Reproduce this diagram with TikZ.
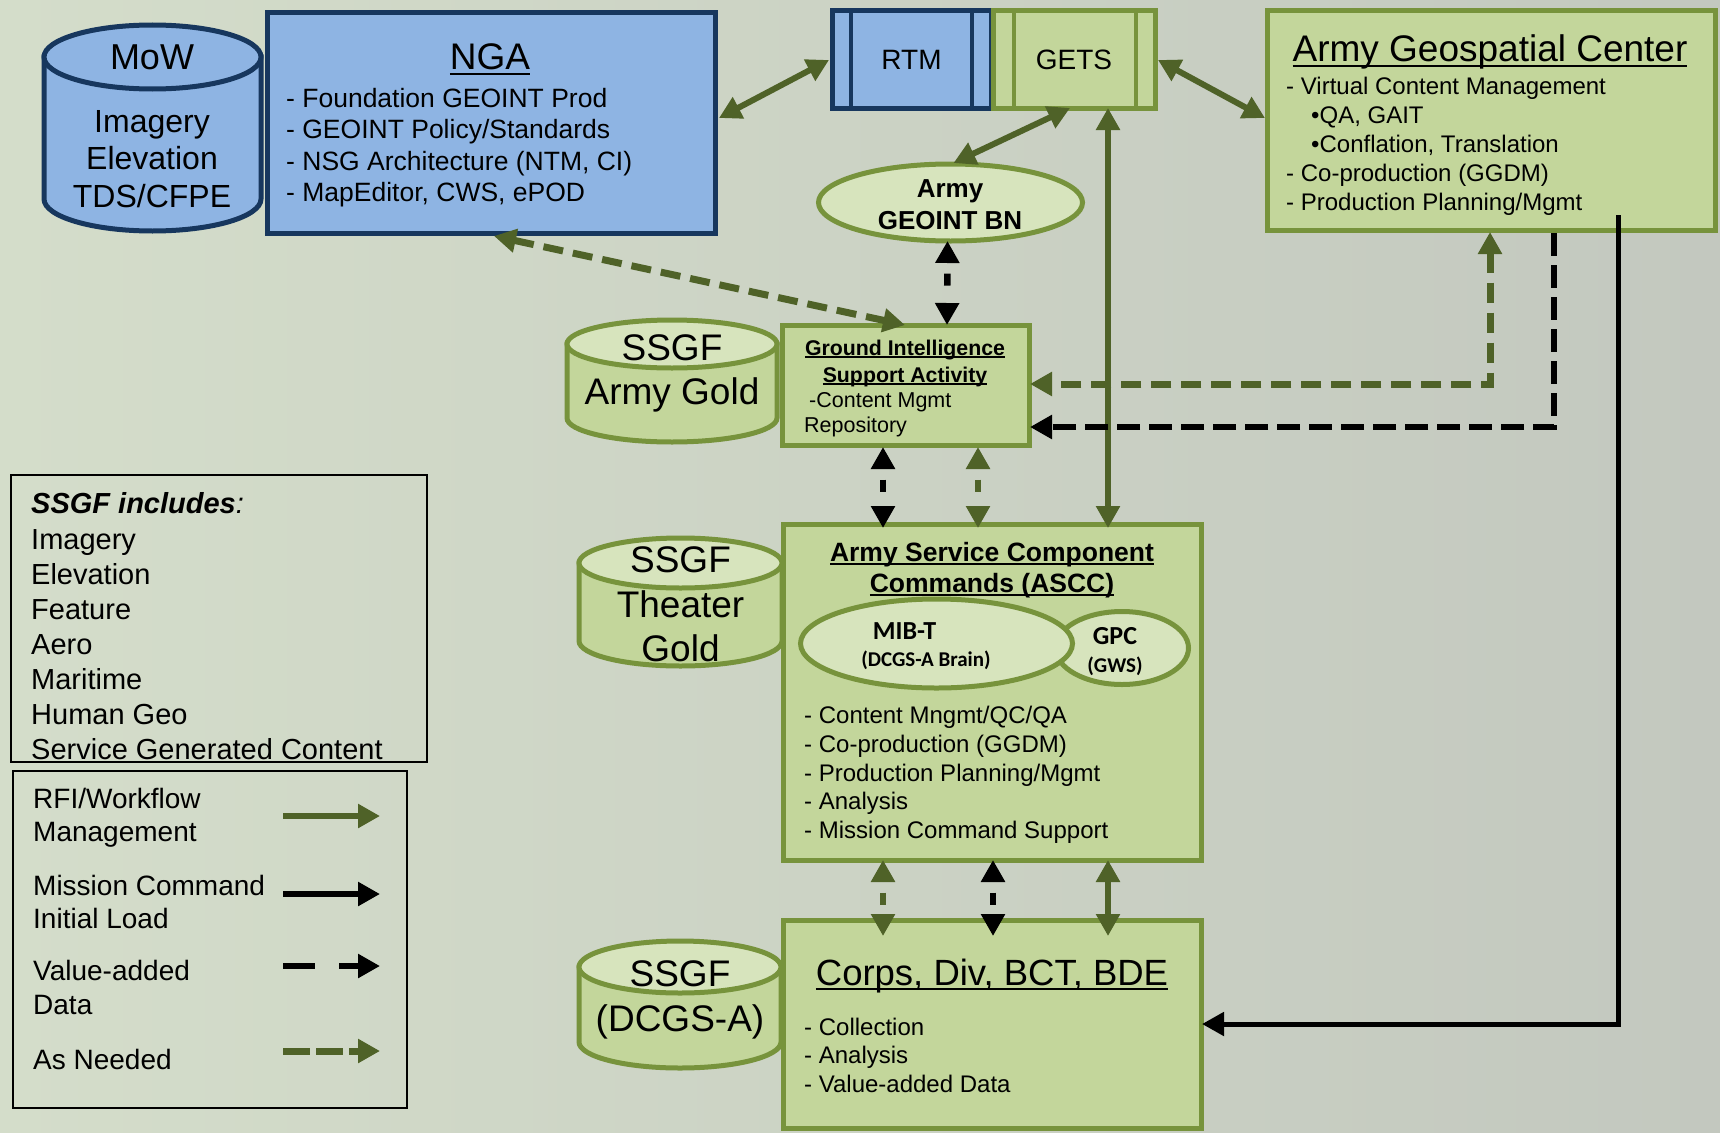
\documentclass[tikz,border=0pt]{standalone}
\usepackage{fontspec}
\setmainfont{Liberation Sans}
\newfontfamily\calfont{Carlito}
\usetikzlibrary{arrows.meta,calc,shapes.geometric}
\definecolor{bgL}{HTML}{D4DDCA}
\definecolor{bgR}{HTML}{C3C8BF}
\definecolor{bluefill}{HTML}{8EB4E3}
\definecolor{blueline}{HTML}{17375E}
\definecolor{grnfill}{HTML}{C3D69B}
\definecolor{grnlight}{HTML}{D7E4BD}
\definecolor{grnline}{HTML}{77933C}
\definecolor{arrgrn}{HTML}{4F6228}
\newsavebox\ulbox
\newcommand\ulx[1]{\sbox\ulbox{#1}\rlap{\rule[-0.14em]{\wd\ulbox}{0.07em}}\usebox\ulbox}
\newcommand\drawcyl[8]{%
  \pgfmathsetmacro\cylcx{(#1+#2)/2}%
  \pgfmathsetmacro\cylrx{(#2-#1)/2}%
  \filldraw[fill=#6,draw=#8,line width=5pt] (#1,#3+#5) -- (#1,#4-#5)
     arc[start angle=180,end angle=360,x radius=\cylrx pt,y radius=#5pt] -- (#2,#3+#5) -- cycle;
  \filldraw[fill=#7,draw=#8,line width=5pt] (\cylcx,#3+#5) ellipse[x radius=\cylrx pt,y radius=#5pt];
}
\begin{document}
\begin{tikzpicture}[x=1pt,y=-1pt,>={Triangle[length=22pt,width=23pt]},
  box/.style={draw,line width=5pt,inner sep=0pt,outer sep=0pt,anchor=north west},
  bluebox/.style={box,fill=bluefill,draw=blueline},
  grnbox/.style={box,fill=grnfill,draw=grnline},
  oval/.style={ellipse,draw=grnline,fill=grnlight,line width=5pt,inner sep=0pt,outer sep=0pt},
  legbox/.style={draw=black,line width=1.8pt,inner sep=0pt,outer sep=0pt,anchor=north west},
  lt/.style={inner sep=0pt,anchor=base west},
  ct/.style={inner sep=0pt,anchor=base},
  garrow/.style={draw=arrgrn,line width=6pt},
  barrow/.style={draw=black,line width=6pt},
  gdash/.style={line width=7pt,dash pattern=on 20pt off 10pt},
  bdash/.style={line width=6.5pt,dash pattern=on 23pt off 9pt},
  sdash/.style={line width=6.5pt,dash pattern=on 0pt off 12pt on 12pt off 40pt},
  fbig/.style={font=\fontsize{37}{44}\selectfont},
  fmow/.style={font=\fontsize{32}{38}\selectfont},
  fnga/.style={font=\fontsize{26.5}{32}\selectfont},
  fitem/.style={font=\fontsize{24}{29}\selectfont},
  fleg/.style={font=\fontsize{29}{35}\selectfont},
  fleg2/.style={font=\fontsize{28}{34}\selectfont},
  fgisa/.style={font=\fontsize{21.5}{26}\selectfont},
  fgisab/.style={font=\fontsize{21.3}{26}\selectfont\bfseries},
  fasccb/.style={font=\fontsize{26.5}{31}\selectfont\bfseries},
  fbn/.style={font=\fontsize{26}{31}\selectfont\bfseries},
  fcalA/.style={font=\calfont\fontsize{26}{30}\selectfont\bfseries},
  fcalB/.style={font=\calfont\fontsize{21}{25}\selectfont\bfseries}]

% background
\fill[left color=bgL,right color=bgR] (0,0) rectangle (1720,1132);
\useasboundingbox (0,0) rectangle (1720,1132);

% MoW
\drawcyl{44}{261}{25}{231}{32}{bluefill}{bluefill}{blueline}
\node[ct,font=\fontsize{36}{40}\selectfont] (mowt) at (152,70) {MoW};
\node[ct,fmow] (mow1) at (152,132) {Imagery};
\node[ct,fmow] (mow2) at (152,169.5) {Elevation};
\node[ct,fmow] (mow3) at (152,207) {TDS/CFPE};

% NGA
\node[bluebox,minimum width=448pt,minimum height=220pt] (nga) at (267,13) {};
\node[ct,fbig] (ngat) at (490,70) {\ulx{NGA}};
\node[lt,fnga] (nga1) at (286,107) {- Foundation GEOINT Prod};
\node[lt,fnga] (nga2) at (286,138.5) {- GEOINT Policy/Standards};
\node[lt,fnga] (nga3) at (286,170) {- NSG Architecture (NTM, CI)};
\node[lt,fnga] (nga4) at (286,201.5) {- MapEditor, CWS, ePOD};

% RTM / GETS
\node[bluebox,minimum width=159pt,minimum height=97pt] (rtm) at (832,11) {};
\draw[blueline,line width=4pt] ([xshift=19pt]rtm.north west) -- ([xshift=19pt]rtm.south west);
\draw[blueline,line width=4pt] ([xshift=-19pt]rtm.north east) -- ([xshift=-19pt]rtm.south east);
\node[grnbox,minimum width=162pt,minimum height=97pt] (gets) at (993,11) {};
\draw[grnline,line width=4pt] ([xshift=21pt]gets.north west) -- ([xshift=21pt]gets.south west);
\draw[grnline,line width=4pt] ([xshift=-19pt]gets.north east) -- ([xshift=-19pt]gets.south east);
\node[ct,font=\fontsize{28}{34}\selectfont] (rtmt) at (911.5,69.5) {RTM};
\node[ct,font=\fontsize{28}{34}\selectfont] (getst) at (1074,69.5) {GETS};

% Army Geospatial Center
\node[grnbox,minimum width=448pt,minimum height=219pt] (agc) at (1267,11) {};
\node[ct,fbig] (agct) at (1490,62) {\ulx{Army Geospatial Center}};
\node[lt,fitem] (agc1) at (1286,94) {- Virtual Content Management};
\node[lt,fitem] (agc2) at (1311,123) {•QA, GAIT};
\node[lt,fitem] (agc3) at (1311,152) {•Conflation, Translation};
\node[lt,fitem] (agc4) at (1286,181) {- Co-production (GGDM)};
\node[lt,fitem] (agc5) at (1286,210) {- Production Planning/Mgmt};

% Army GEOINT BN
\node[oval,minimum width=264pt,minimum height=77pt] (bn) at (950.5,202.5) {};
\node[ct,fbn] (bn1) at (950,197) {Army};
\node[ct,fbn] (bn2) at (950,229) {GEOINT BN};

% SSGF Army Gold
\drawcyl{567}{777}{320}{442}{24}{grnfill}{grnlight}{grnline}
\node[ct,fbig] (ag1) at (672,360) {SSGF};
\node[ct,fbig] (ag2) at (672,404) {Army Gold};

% GISA
\node[grnbox,minimum width=247pt,minimum height=120pt] (gisa) at (782,325) {};
\node[ct,fgisab] (gisa1) at (905,355) {\ulx{Ground Intelligence}};
\node[ct,fgisab] (gisa2) at (905,382) {\ulx{Support Activity}};
\node[lt,fgisa] (gisa3) at (809,407) {-Content Mgmt};
\node[lt,fgisa] (gisa4) at (804,432) {Repository};

% Legend 1
\node[legbox,minimum width=416pt,minimum height=287pt] (leg1) at (11,475) {};
\node[lt,fleg] (s0) at (31,513) {\textbf{\textit{SSGF includes}}\textit{:}};
\node[lt,fleg] (s1) at (31,549) {Imagery};
\node[lt,fleg] (s2) at (31,584) {Elevation};
\node[lt,fleg] (s3) at (31,619) {Feature};
\node[lt,fleg] (s4) at (31,654) {Aero};
\node[lt,fleg] (s5) at (31,689) {Maritime};
\node[lt,fleg] (s6) at (31,724) {Human Geo};
\node[lt,fleg] (s7) at (31,759) {Service Generated Content};

% Legend 2
\node[legbox,line width=2pt,minimum width=394pt,minimum height=337pt] (leg2) at (13,771) {};
\node[lt,fleg2] (k1) at (33,808) {RFI/Workflow};
\node[lt,fleg2] (k2) at (33,841) {Management};
\node[lt,fleg2] (k3) at (33,895) {Mission Command};
\node[lt,fleg2] (k4) at (33,928.5) {Initial Load};
\node[lt,fleg2] (k5) at (33,980) {Value-added};
\node[lt,fleg2] (k6) at (33,1014) {Data};
\node[lt,fleg2] (k7) at (33,1069) {As Needed};
\coordinate (la1) at (283,816); \coordinate (lb1) at (380,816);
\coordinate (la2) at (283,894); \coordinate (lb2) at (380,894);
\coordinate (la3) at (283,966); \coordinate (lb3) at (380,966);
\coordinate (la4) at (283,1051); \coordinate (lb4) at (380,1051);
\draw[garrow,->] (la1) -- (lb1);
\draw[barrow,->] (la2) -- (lb2);
\draw[barrow,line width=6.5pt,dash pattern=on 32pt off 24pt on 40pt,->] (la3) -- (lb3);
\draw[garrow,line width=7pt,dash pattern=on 27pt off 6pt,->] (la4) -- (lb4);

% SSGF Theater Gold
\drawcyl{579}{782}{538}{666}{25}{grnfill}{grnlight}{grnline}
\node[ct,fbig] (tg1) at (680.5,572) {SSGF};
\node[ct,fbig] (tg2) at (680.5,617) {Theater};
\node[ct,fbig] (tg3) at (680.5,661) {Gold};

% ASCC
\node[grnbox,minimum width=418pt,minimum height=336pt] (ascc) at (783,524) {};
\node[ct,fasccb] (ascct1) at (992,561) {\ulx{Army Service Component}};
\node[ct,fasccb] (ascct2) at (992,592) {\ulx{Commands (ASCC)}};
\node[oval,minimum width=133pt,minimum height=73pt] (gpc) at (1122,648) {};
\node[oval,minimum width=272pt,minimum height=89pt] (mib) at (936.5,643.5) {};
\node[ct,fcalA] (mib1) at (904.5,639) {MIB-T};
\node[ct,fcalB] (mib2) at (926,666) {(DCGS-A Brain)};
\node[ct,fcalA] (gpc1) at (1115,644) {GPC};
\node[ct,fcalB] (gpc2) at (1115,672) {(GWS)};
\node[lt,fitem] (as1) at (804,723.5) {- Content Mngmt/QC/QA};
\node[lt,fitem] (as2) at (804,752.5) {- Co-production (GGDM)};
\node[lt,fitem] (as3) at (804,781) {- Production Planning/Mgmt};
\node[lt,fitem] (as4) at (804,809.5) {- Analysis};
\node[lt,fitem] (as5) at (804,838.5) {- Mission Command Support};

% SSGF (DCGS-A)
\drawcyl{579}{781}{941}{1068}{26}{grnfill}{grnlight}{grnline}
\node[ct,fbig] (dc1) at (680,986) {SSGF};
\node[ct,fbig] (dc2) at (680,1031) {(DCGS-A)};

% Corps
\node[grnbox,minimum width=418pt,minimum height=208pt] (corps) at (783,920) {};
\node[ct,font=\fontsize{36.5}{44}\selectfont] (corpst) at (992,985) {\ulx{Corps, Div, BCT, BDE}};
\node[lt,fitem] (co1) at (804,1035) {- Collection};
\node[lt,fitem] (co2) at (804,1063) {- Analysis};
\node[lt,fitem] (co3) at (804,1092) {- Value-added Data};

% connectors
\draw[garrow,<->] ($(nga.north east)+(4,105)$) -- ($(rtm.north west)+(-3,49)$);
\draw[garrow,<->] ($(gets.north east)+(3,49)$) -- ($(agc.north west)+(-2,107)$);
\draw[garrow,<->] ($(gets.south west)+(77,0)$) -- ($(bn.north)+(3,-1)$);
\draw[garrow,<->] ($(gets.south west)+(115,0)$) -- ($(ascc.north west)+(325,4)$);
\draw[garrow,gdash,<->] ($(nga.south west)+(227,3)$) -- ($(gisa.north west)+(123,0)$);
\draw[barrow,sdash,<->] ($(bn.south)+(-3,0)$) -- ($(gisa.north west)+(165,0)$);
\draw[barrow,sdash,<->] ($(gisa.south west)+(101,2)$) -- ($(ascc.north west)+(100,4)$);
\draw[garrow,sdash,<->] ($(gisa.south west)+(196,2)$) -- ($(ascc.north west)+(195,4)$);
\draw[garrow,gdash,<->] ($(agc.south west)+(223,2)$) |- ($(gisa.north east)+(1,59)$);
\draw[barrow,bdash,->] ($(agc.south west)+(287,3)$) |- ($(gisa.north east)+(1,102)$);
\draw[barrow,line width=5pt,->] ($(agc.south west)+(351,-15)$) |- ($(corps.north east)+(1,104)$);
\draw[garrow,sdash,<->] ($(ascc.south west)+(100,0)$) -- ($(corps.north west)+(100,16)$);
\draw[barrow,sdash,<->] ($(ascc.south west)+(210,0)$) -- ($(corps.north west)+(210,16)$);
\draw[garrow,<->] ($(ascc.south west)+(325,0)$) -- ($(corps.north west)+(325,16)$);
\end{tikzpicture}
\end{document}
